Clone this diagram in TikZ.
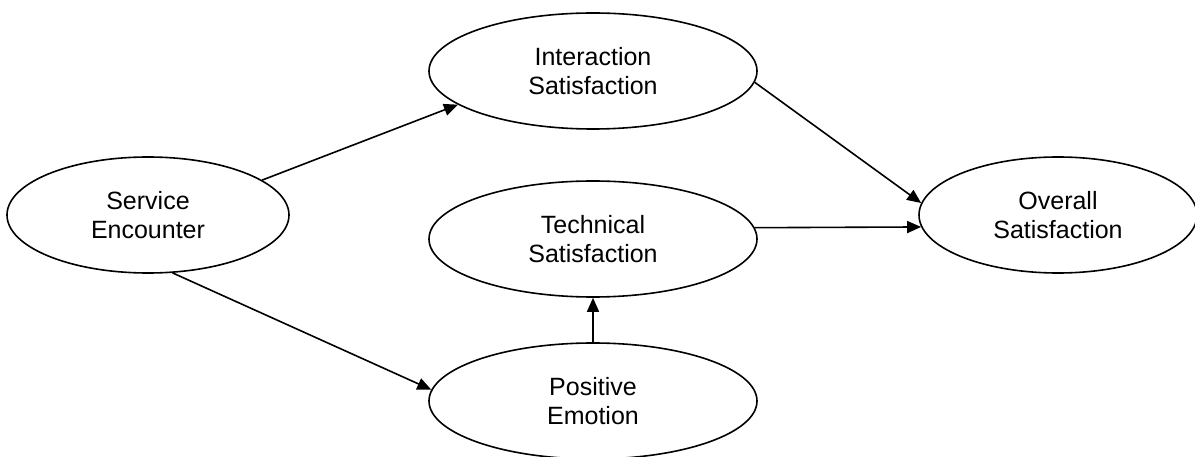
\documentclass[tikz,border=0pt]{standalone}
\usepackage{fontspec}
\setmainfont{Liberation Sans}
\usepackage{tikz}
\usetikzlibrary{arrows.meta, shapes.geometric}

\begin{document}
\begin{tikzpicture}[x=1pt, y=-1pt, line width=1.6pt,
    construct/.style={ellipse, draw, inner sep=0pt, align=center,
        minimum height=116, font=\fontsize{25}{29}\selectfont},
    link/.style={-{Triangle[length=14pt, width=12pt]}}]
    \useasboundingbox (0,0) rectangle (1195,457);
    % Constructs
    \node[construct, minimum width=282] (service) at (148,215) {Service\\Encounter};
    \node[construct, minimum width=328] (interaction) at (593,71) {Interaction\\Satisfaction};
    \node[construct, minimum width=328] (technical) at (593,239) {Technical\\Satisfaction};
    \node[construct, minimum width=328] (emotion) at (593,401) {Positive\\Emotion};
    \node[construct, minimum width=278] (overall) at (1058,215) {Overall\\Satisfaction};
    % Paths
    \draw[link] (service.17) -- (interaction.194);
    \draw[link] (service.293) -- (emotion.176);
    \draw[link] (interaction.356) -- (overall.175);
    \draw[link] (technical.4) -- (overall.185);
    \draw[link] (emotion.north) -- (technical.south);
\end{tikzpicture}
\end{document}
